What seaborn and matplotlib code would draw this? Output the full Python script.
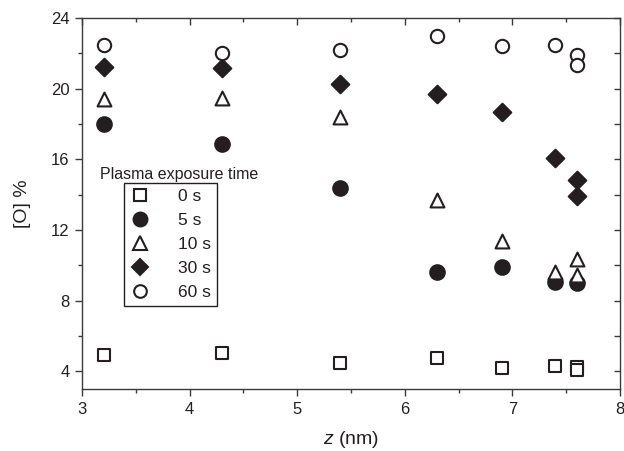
import numpy as np
import pandas as pd
import matplotlib
matplotlib.use("Agg")
import matplotlib.pyplot as plt
from matplotlib.lines import Line2D
from matplotlib.ticker import MultipleLocator
import seaborn as sns

sns.set_theme(style="white")
plt.rcParams["font.family"] = ["Liberation Sans", "DejaVu Sans"]
plt.rcParams["mathtext.fontset"] = "custom"
plt.rcParams["mathtext.it"] = "Liberation Sans:italic"
plt.rcParams["mathtext.rm"] = "Liberation Sans"

INK = "#231f20"

# Oxygen content [O] % versus depth z (nm) for each plasma exposure time
z_0s = [3.2, 4.3, 5.4, 6.3, 6.9, 7.4, 7.6, 7.6]
o_0s = [4.95, 5.05, 4.5, 4.75, 4.2, 4.3, 4.22, 4.05]

z_5s = [3.2, 4.3, 5.4, 6.3, 6.9, 7.4, 7.6]
o_5s = [18.0, 16.85, 14.4, 9.6, 9.9, 9.05, 9.0]

z_10s = [3.2, 4.3, 5.4, 6.3, 6.9, 7.4, 7.6, 7.6]
o_10s = [19.4, 19.5, 18.4, 13.7, 11.4, 9.6, 10.35, 9.45]

z_30s = [3.2, 4.3, 5.4, 6.3, 6.9, 7.4, 7.6, 7.6]
o_30s = [21.25, 21.15, 20.25, 19.7, 18.7, 16.1, 14.85, 13.95]

z_60s = [3.2, 4.3, 5.4, 6.3, 6.9, 7.4, 7.6, 7.6]
o_60s = [22.45, 22.0, 22.2, 23.0, 22.4, 22.45, 21.9, 21.35]

times = ["0 s", "5 s", "10 s", "30 s", "60 s"]
series_z = [z_0s, z_5s, z_10s, z_30s, z_60s]
series_o = [o_0s, o_5s, o_10s, o_30s, o_60s]

frames = [pd.DataFrame({"z": zz, "O": oo, "time": t})
          for t, zz, oo in zip(times, series_z, series_o)]
df = pd.concat(frames, ignore_index=True)

styles = {
    "0 s":  dict(marker="s", face="white", size=72),
    "5 s":  dict(marker="o", face=INK, size=110),
    "10 s": dict(marker="^", face="white", size=100),
    "30 s": dict(marker="D", face=INK, size=80),
    "60 s": dict(marker="o", face="white", size=92),
}

fig = plt.figure(figsize=(6.24, 4.51), dpi=100)
ax = fig.add_axes([82 / 624, 1 - 389 / 451, 538 / 624, 371 / 451])

handles = []
for t in times:
    st = styles[t]
    sub = df[df["time"] == t]
    sns.scatterplot(data=sub, x="z", y="O", ax=ax, marker=st["marker"],
                    s=st["size"], color=st["face"], edgecolor=INK,
                    linewidth=1.5, legend=False, zorder=3)
    handles.append(Line2D([], [], linestyle="none", marker=st["marker"],
                          markersize=np.sqrt(st["size"]) * 0.95,
                          markerfacecolor=st["face"], markeredgecolor=INK,
                          markeredgewidth=1.5, label=t))

ax.set_xlim(3, 8)
ax.set_ylim(3, 24)
ax.xaxis.set_major_locator(MultipleLocator(1))
ax.xaxis.set_minor_locator(MultipleLocator(0.5))
ax.yaxis.set_minor_locator(MultipleLocator(2))
ax.set_yticks([4, 8, 12, 16, 20, 24])

for sp in ax.spines.values():
    sp.set_color("#3a3a3a")
    sp.set_linewidth(1.0)

ax.tick_params(which="both", direction="out", colors="#3a3a3a",
               labelcolor=INK, labelsize=12, top=False, right=False,
               bottom=True, left=True)
ax.tick_params(which="major", length=5, width=1.0, pad=4)
ax.tick_params(which="minor", length=3, width=1.0)

# inward ticks along the top and right edges
top = ax.secondary_xaxis("top")
top.xaxis.set_major_locator(MultipleLocator(1))
top.xaxis.set_minor_locator(MultipleLocator(0.5))
top.tick_params(which="both", direction="in", labeltop=False,
                colors="#3a3a3a", width=1.0)
top.tick_params(which="major", length=5)
top.tick_params(which="minor", length=3)
top.spines["top"].set_visible(False)

right = ax.secondary_yaxis("right")
right.yaxis.set_major_locator(MultipleLocator(2))
right.tick_params(which="both", direction="in", labelright=False,
                  colors="#3a3a3a", width=1.0, length=4)
right.spines["right"].set_visible(False)

ax.set_xlabel(r"$z$ (nm)", fontsize=14, color=INK, labelpad=9)
ax.set_ylabel("[O] %", fontsize=14, color=INK, labelpad=14)

leg = ax.legend(handles=handles, loc="upper left",
                bbox_to_anchor=(0.078, 0.555), frameon=True, fancybox=False,
                edgecolor=INK, framealpha=1, fontsize=12.5, handlelength=1.2,
                handletextpad=1.55, labelspacing=0.5, borderpad=0.35,
                borderaxespad=0)
leg.get_frame().set_linewidth(1.0)
for txt in leg.get_texts():
    txt.set_color(INK)

ax.text(0.033, 0.578, "Plasma exposure time", transform=ax.transAxes,
        fontsize=11.5, color=INK, ha="left", va="center")

fig.savefig("out.png", dpi=100)
